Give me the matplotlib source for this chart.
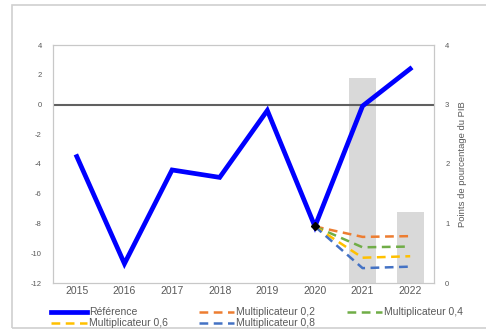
import numpy as np
import matplotlib
matplotlib.use('Agg')
import matplotlib.pyplot as plt
from matplotlib.lines import Line2D
from matplotlib.patches import Rectangle

years = ['2015', '2016', '2017', '2018', '2019', '2020', '2021', '2022']
reference = [-3.5, -10.7, -4.4, -4.9, -0.4, -8.2, -0.1, 2.4]

# scenarios start from 2020
scen_years = ['2020', '2021', '2022']
mult_02 = [-8.2, -8.9, -8.85]
mult_04 = [-8.2, -9.6, -9.55]
mult_06 = [-8.2, -10.3, -10.2]
mult_08 = [-8.2, -11.0, -10.9]

bar_years = ['2021', '2022']
bar_values = [3.45, 1.2]  # points de pourcentage du PIB

plt.rcParams['font.family'] = ['Liberation Sans', 'DejaVu Sans']
plt.rcParams['axes.unicode_minus'] = False
txt = '#595959'

fig = plt.figure(figsize=(4.86, 3.29), dpi=100)
ax = fig.add_axes([53 / 486, 1 - 283 / 329, 381 / 486, 238 / 329])
ax2 = ax.twinx()

xpos = {y: i for i, y in enumerate(years)}
xs = [xpos[y] for y in scen_years]

ax2.bar([xpos[y] for y in bar_years], bar_values, width=0.57, color='#D9D9D9', zorder=1)
ax2.set_ylim(0, 4)
ax2.set_yticks([0, 1, 2, 3, 4])
ax2.set_ylabel('Points de pourcentage du PIB', fontsize=6.8, color=txt, labelpad=6)

ax.set_zorder(ax2.get_zorder() + 1)
ax.patch.set_visible(False)

ax.axhline(0, color='#606060', linewidth=1.5, zorder=1)

dash = (3.5, 2.2)
ax.plot(xs, mult_02, color='#ED7D31', linewidth=1.8, dashes=dash, zorder=2)
ax.plot(xs, mult_04, color='#70AD47', linewidth=1.8, dashes=dash, zorder=2)
ax.plot(xs, mult_06, color='#FFC000', linewidth=1.8, dashes=dash, zorder=2)
ax.plot(xs, mult_08, color='#4472C4', linewidth=1.8, dashes=dash, zorder=2)
ax.plot(range(len(years)), reference, color='#0000FF', linewidth=3.4, zorder=3,
        solid_joinstyle='miter')
ax.plot([xpos['2020']], [reference[5]], marker='D', color='black', markersize=4.5, zorder=4)

ax.set_xlim(-0.5, len(years) - 0.5)
ax.set_ylim(-12, 4)
ax.set_yticks(np.arange(-12, 5, 2))
ax.set_xticks(range(len(years)))
ax.set_xticklabels(years, fontsize=7.5, color=txt)

for a in (ax, ax2):
    a.tick_params(axis='both', length=0, labelsize=5.5, labelcolor=txt, pad=8)
    for s in a.spines.values():
        s.set_color('#C8C8C8')
        s.set_linewidth(0.8)
ax.tick_params(axis='x', labelsize=7.5, pad=2)

handles = [
    Line2D([], [], color='#0000FF', linewidth=3.4),
    Line2D([], [], color='#FFC000', linewidth=1.8, dashes=dash),
    Line2D([], [], color='#ED7D31', linewidth=1.8, dashes=dash),
    Line2D([], [], color='#4472C4', linewidth=1.8, dashes=dash),
    Line2D([], [], color='#70AD47', linewidth=1.8, dashes=dash),
]
labels = ['Référence', 'Multiplicateur 0,6', 'Multiplicateur 0,2',
          'Multiplicateur 0,8', 'Multiplicateur 0,4']
leg = fig.legend(handles, labels, ncol=3, loc='upper left',
                 bbox_to_anchor=(46 / 486, 1 - 302 / 329), frameon=False,
                 fontsize=7.5, handlelength=3.4, handletextpad=0.2,
                 columnspacing=3.0, labelspacing=0.1, borderpad=0)
for t in leg.get_texts():
    t.set_color(txt)

fig.patches.append(Rectangle((12 / 486, 1 / 329), 490 / 486, 323 / 329,
                             transform=fig.transFigure, fill=False,
                             edgecolor='#D0D0D0', linewidth=1.2))

fig.savefig('out.png', dpi=100)
